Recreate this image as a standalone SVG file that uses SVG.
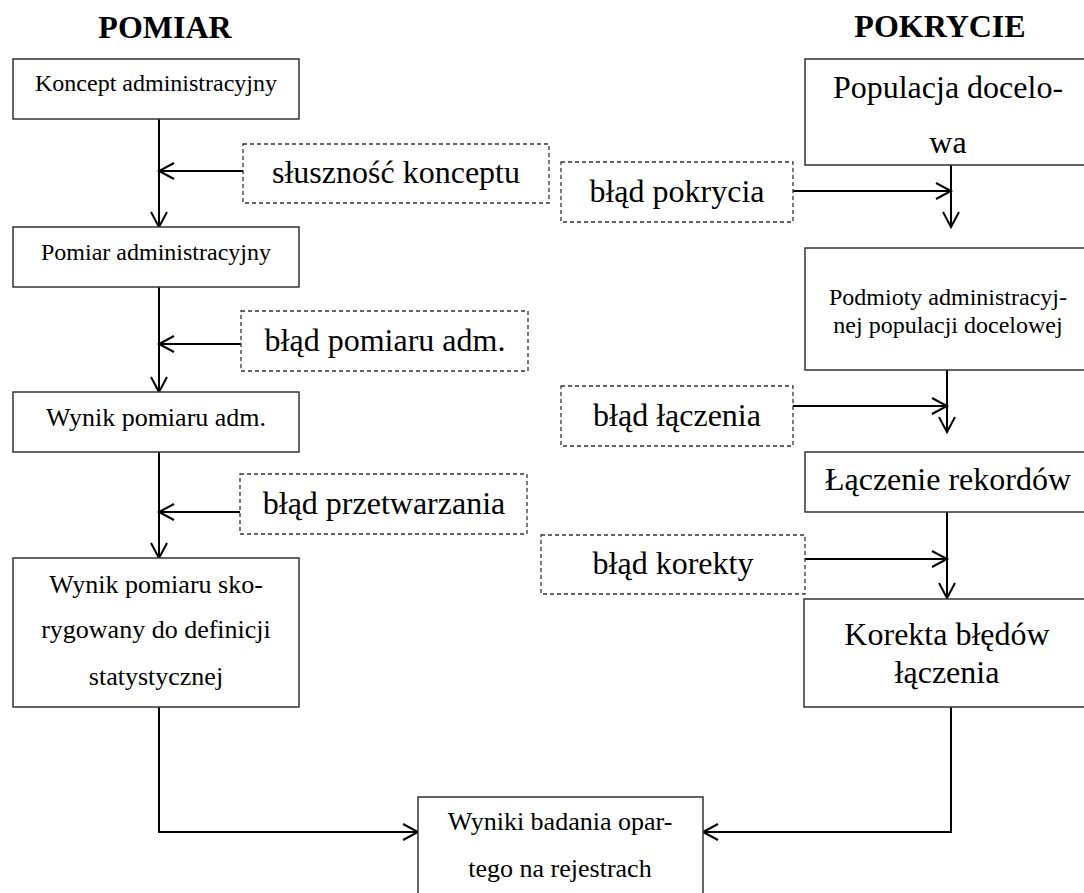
<svg xmlns="http://www.w3.org/2000/svg" width="1084" height="893" viewBox="0 0 1084 893">
<defs>
<style>
.box{fill:#fff;stroke:#333;stroke-width:1.5}
.dash{fill:#fff;stroke:#333;stroke-width:1.3;stroke-dasharray:4 3}
.c{fill:none;stroke:#000;stroke-width:2}
text{font-family:"Liberation Serif","Times New Roman",serif;fill:#000;text-anchor:middle}
.s24{font-size:24px}
.s26{font-size:26px}
.s32{font-size:32px}
.title{font-size:32px;font-weight:bold}
</style>
<marker id="ah" markerUnits="userSpaceOnUse" markerWidth="20" markerHeight="20" refX="16" refY="9" orient="auto" viewBox="0 0 20 20">
<path d="M1,1 L16,9 L1,17" fill="none" stroke="#000" stroke-width="2"/>
</marker>
</defs>
<rect width="1084" height="893" fill="#fff"/>

<text class="title" x="165" y="38">POMIAR</text>
<text class="title" x="940" y="37">POKRYCIE</text>

<g id="connectors">
<path class="c" d="M159,119 V227" marker-end="url(#ah)"/>
<path class="c" d="M243,171 H159" marker-end="url(#ah)"/>
<path class="c" d="M159,287 V392" marker-end="url(#ah)"/>
<path class="c" d="M241,344 H159" marker-end="url(#ah)"/>
<path class="c" d="M159,452 V558" marker-end="url(#ah)"/>
<path class="c" d="M240,512 H159" marker-end="url(#ah)"/>
<path class="c" d="M159,707 V832 H418" marker-end="url(#ah)"/>
<path class="c" d="M951,165 V227" marker-end="url(#ah)"/>
<path class="c" d="M793,191 H951" marker-end="url(#ah)"/>
<path class="c" d="M947,370 V432" marker-end="url(#ah)"/>
<path class="c" d="M793,406 H947" marker-end="url(#ah)"/>
<path class="c" d="M947,505 V598" marker-end="url(#ah)"/>
<path class="c" d="M805,559 H947" marker-end="url(#ah)"/>
<path class="c" d="M951,707 V832 H703" marker-end="url(#ah)"/>
</g>

<g id="koncept">
<rect class="box" x="13" y="59" width="286" height="60"/>
<text class="s24" x="156" y="91">Koncept administracyjny</text>
</g>
<g id="pomiar-adm">
<rect class="box" x="13" y="227" width="286" height="60"/>
<text class="s24" x="156" y="260">Pomiar administracyjny</text>
</g>
<g id="wynik-adm">
<rect class="box" x="13" y="392" width="286" height="60"/>
<text class="s26" x="156" y="426">Wynik pomiaru adm.</text>
</g>
<g id="wynik-skorygowany">
<rect class="box" x="13" y="558" width="286" height="149"/>
<text class="s26" x="156" y="593">Wynik pomiaru sko-</text>
<text class="s26" x="156" y="638">rygowany do definicji</text>
<text class="s26" x="156" y="685">statystycznej</text>
</g>

<g id="slusznosc">
<rect class="dash" x="243" y="144" width="306" height="59"/>
<text class="s32" x="396" y="183">słuszność konceptu</text>
</g>
<g id="blad-pomiaru">
<rect class="dash" x="241" y="311" width="287" height="60"/>
<text class="s32" x="385" y="351">błąd pomiaru adm.</text>
</g>
<g id="blad-przetwarzania">
<rect class="dash" x="240" y="474" width="287" height="60"/>
<text class="s32" x="384" y="514">błąd przetwarzania</text>
</g>

<g id="populacja">
<rect class="box" x="805" y="59" width="286" height="106"/>
<text class="s32" x="948" y="98">Populacja docelo-</text>
<text class="s32" x="948" y="153">wa</text>
</g>
<g id="podmioty">
<rect class="box" x="805" y="248" width="286" height="122"/>
<text class="s24" x="948" y="305">Podmioty administracyj-</text>
<text class="s24" x="948" y="333">nej populacji docelowej</text>
</g>
<g id="laczenie">
<rect class="box" x="805" y="452" width="286" height="60"/>
<text class="s32" x="948" y="490">Łączenie rekordów</text>
</g>
<g id="korekta">
<rect class="box" x="804" y="599" width="287" height="108"/>
<text class="s32" x="947" y="645">Korekta błędów</text>
<text class="s32" x="947" y="683">łączenia</text>
</g>

<g id="blad-pokrycia">
<rect class="dash" x="561" y="162" width="232" height="60"/>
<text class="s32" x="677" y="202">błąd pokrycia</text>
</g>
<g id="blad-laczenia">
<rect class="dash" x="561" y="386" width="232" height="60"/>
<text class="s32" x="677" y="426">błąd łączenia</text>
</g>
<g id="blad-korekty">
<rect class="dash" x="541" y="535" width="264" height="59"/>
<text class="s32" x="673" y="574">błąd korekty</text>
</g>

<g id="wyniki">
<rect class="box" x="418" y="797" width="285" height="110"/>
<text class="s26" x="560" y="830">Wyniki badania opar-</text>
<text class="s26" x="560" y="877">tego na rejestrach</text>
</g>
</svg>
